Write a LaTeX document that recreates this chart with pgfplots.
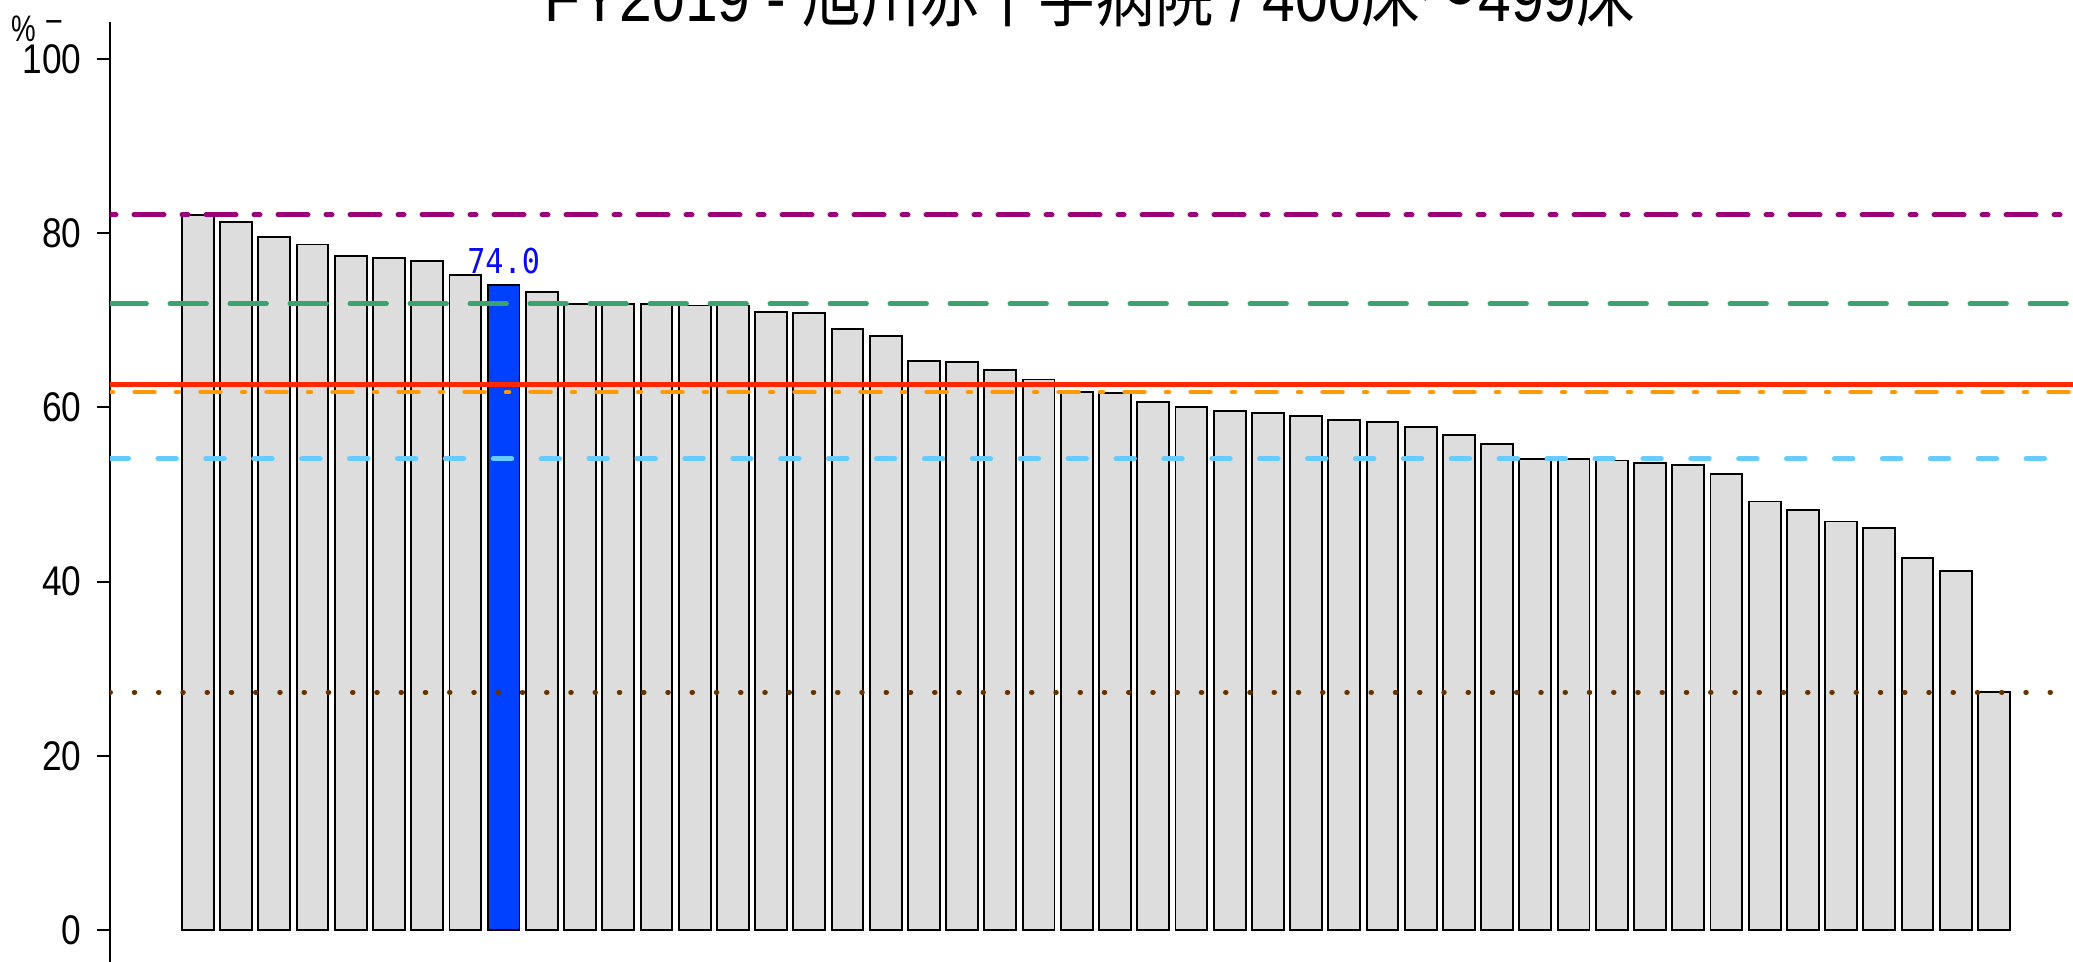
\documentclass[border=0pt]{standalone}
\usepackage{fontspec}
\setmainfont{Liberation Sans}
\newfontfamily\cjk{Noto Sans CJK JP}
\newfontfamily\mono{DejaVu Sans Mono}
\usepackage{graphicx}
\usepackage{pgfplots}
\usepackage{pgfplotstable}
\pgfplotsset{compat=1.18}
\definecolor{cpurple}{HTML}{99007A}
\definecolor{cgreen}{HTML}{3CA370}
\definecolor{cred}{HTML}{FF2800}
\definecolor{corange}{HTML}{FF9900}
\definecolor{clblue}{HTML}{66CCFF}
\definecolor{cbrown}{HTML}{663300}
\definecolor{cbar}{HTML}{DDDDDD}
\definecolor{cblue}{HTML}{0040FF}
\definecolor{clabel}{HTML}{0A0AF0}
\newcommand\sx[1]{\scalebox{0.88}[1]{#1}}
\newcommand\tx[1]{\scalebox{0.85}[1]{#1}}

\pgfplotstableread{
x y
1 82.1
2 81.3
3 79.6
4 78.7
5 77.4
6 77.1
7 76.8
8 75.2
10 73.3
11 71.9
12 71.9
13 71.9
14 71.7
15 71.7
16 70.9
17 70.8
18 69.0
19 68.2
20 65.3
21 65.2
22 64.3
23 63.2
24 61.8
25 61.7
26 60.6
27 60.0
28 59.6
29 59.4
30 59.0
31 58.6
32 58.3
33 57.8
34 56.8
35 55.8
36 54.1
37 54.1
38 53.9
39 53.6
40 53.4
41 52.4
42 49.2
43 48.2
44 46.9
45 46.2
46 42.7
47 41.2
48 27.3
}\greydata

\pgfplotstableread{
x y
9 74.0
}\bluedata

\begin{document}
\begin{tikzpicture}
\begin{axis}[
  scale only axis, width=196.3mm, height=93.95mm,
  xmin=-1.30, xmax=50.07, ymin=-3.67, ymax=104.19,
  axis x line=none, axis y line*=left,
  axis line style={line width=0.6pt, black},
  ytick={0,20,40,60,80,100},
  yticklabels={\tx{0},\tx{20},\tx{40},\tx{60},\tx{80},\tx{100}},
  ytick pos=left,
  tick align=outside, major tick length=1.3mm,
  tick style={line width=0.6pt, black},
  yticklabel style={font=\fontsize{11.8pt}{14pt}\selectfont, anchor=east, inner sep=0pt},
  yticklabel shift=1.5mm,
  /pgf/number format/assume math mode=true,
  clip=true,
]
\addplot[ybar, bar shift=0pt, bar width=0.833, fill=cbar, draw=black, line width=0.55pt] table[x=x, y=y] {\greydata};
\addplot[ybar, bar shift=0pt, bar width=0.833, fill=cblue, draw=black, line width=0.55pt,
  point meta=y, nodes near coords={\mono\fontsize{9.75pt}{11pt}\selectfont\sx{\pgfmathprintnumber[fixed,fixed zerofill,precision=1]{\pgfplotspointmeta}}},
  nodes near coords style={anchor=base, text=clabel, yshift=1.2mm, inner sep=0pt}] table[x=x, y=y] {\bluedata};
% reference lines
\addplot[cpurple, line width=0.5mm, line cap=round, dash pattern=on 0.6mm off 1.8mm on 3.0mm off 1.8mm] coordinates {(-1.30,82.1) (50.07,82.1)};
\addplot[cgreen, line width=0.5mm, line cap=round, dash pattern=on 3.64mm off 2.36mm] coordinates {(-1.30,71.9) (50.07,71.9)};
\addplot[corange, line width=0.45mm, line cap=round, dash pattern=on 0.3mm off 2.15mm on 2.0mm off 2.15mm] coordinates {(-1.30,61.75) (50.07,61.75)};
\addplot[cred, line width=0.55mm] coordinates {(-1.30,62.6) (50.07,62.6)};
\addplot[clblue, line width=0.5mm, line cap=round, dash pattern=on 1.85mm off 2.94mm] coordinates {(-1.30,54.1) (50.07,54.1)};
\addplot[cbrown, line width=0.5mm, line cap=round, dash pattern=on 0.05mm off 2.375mm] coordinates {(-1.30,27.3) (50.07,27.3)};
\end{axis}
\node[anchor=base, inner sep=0pt] at (98mm,94mm) {\fontsize{19pt}{22pt}\selectfont\sx{FY2019 - {\cjk 旭川赤十字病院} / 400{\cjk 床～}499{\cjk 床}}};
\node[anchor=base, inner sep=0pt] at (-8.65mm,92.03mm) {\fontsize{10.5pt}{12pt}\selectfont\scalebox{0.75}[1]{\%}};
\node[anchor=base, inner sep=0pt] at (-5.6mm,92.8mm) {\fontsize{10pt}{12pt}\selectfont\sx{−}};
\pgfresetboundingbox
\path[use as bounding box] (-11mm,0) rectangle (196.3mm,96.2mm);
\end{tikzpicture}
\end{document}
